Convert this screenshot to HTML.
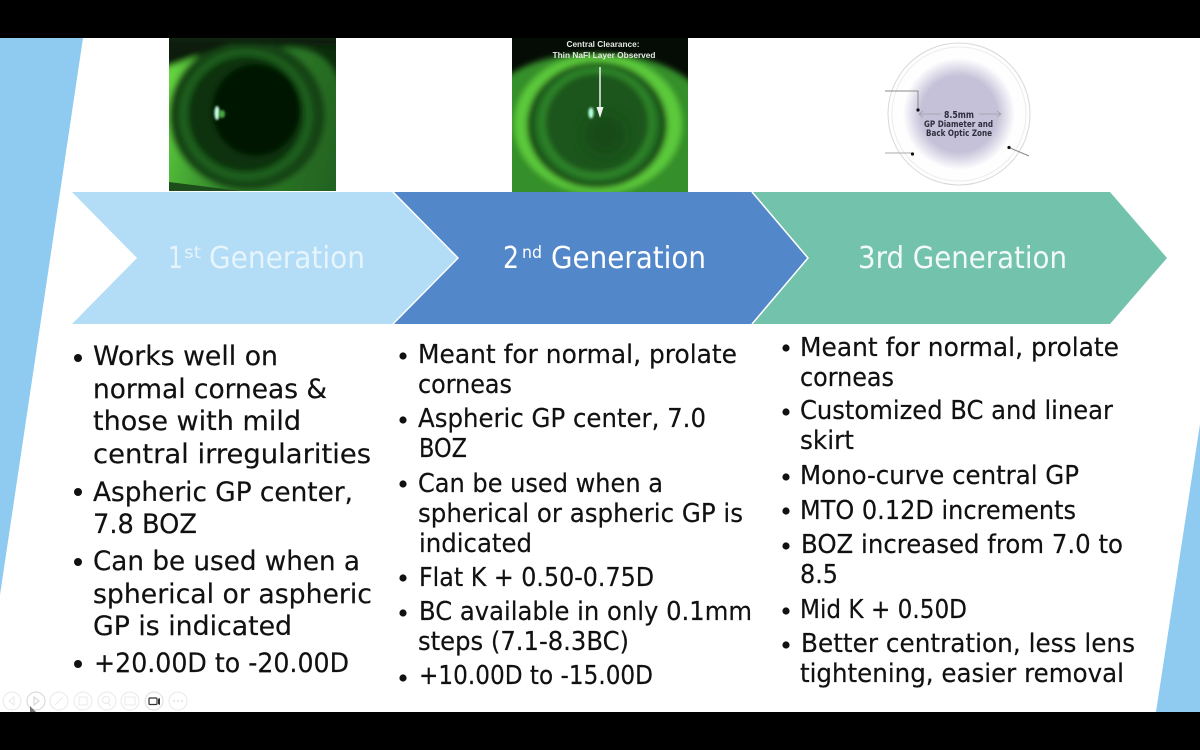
<!DOCTYPE html>
<html><head><meta charset="utf-8"><style>
html,body{margin:0;padding:0;background:#000;width:1200px;height:750px;overflow:hidden}
svg{display:block}
.b text{font-family:"DejaVu Sans",sans-serif;font-size:25.5px;fill:#111;stroke:#111;stroke-width:.2}
.c text{font-size:27px}
.h{font-family:"DejaVu Sans",sans-serif;font-size:30px}
</style></head><body>
<svg width="1200" height="750" viewBox="0 0 1200 750" xmlns="http://www.w3.org/2000/svg">
<defs>
<filter id="b3" x="-30%" y="-30%" width="160%" height="160%"><feGaussianBlur stdDeviation="3"/></filter>
<filter id="b1" x="-50%" y="-50%" width="200%" height="200%"><feGaussianBlur stdDeviation="1"/></filter>
<filter id="b05" x="-10%" y="-50%" width="120%" height="200%"><feGaussianBlur stdDeviation="0.35"/></filter>
<filter id="b6" x="-30%" y="-30%" width="160%" height="160%"><feGaussianBlur stdDeviation="7"/></filter>
<clipPath id="e1"><rect x="169" y="38" width="167" height="153"/></clipPath>
<clipPath id="e2"><rect x="512" y="38" width="176" height="154"/></clipPath>
<linearGradient id="s1" x1="0" y1="0.4" x2="1" y2="0.6"><stop offset="0" stop-color="#68d642"/><stop offset=".14" stop-color="#4fb637"/><stop offset=".45" stop-color="#2f8029"/><stop offset="1" stop-color="#236320"/></linearGradient>
<radialGradient id="lens"><stop offset="0" stop-color="#c5c1d9"/><stop offset=".68" stop-color="#c5c1d9"/><stop offset="1" stop-color="#c5c1d9" stop-opacity="0"/></radialGradient>
</defs>
<rect width="1200" height="750" fill="#000"/>
<rect x="0" y="38" width="1200" height="674" fill="#fff"/>
<polygon points="0,38 83,38 0,595" fill="#8fcbf0"/>
<polygon points="1200,424 1200,712 1156,712" fill="#8fcbf0"/>

<!-- eye 1 -->
<g clip-path="url(#e1)">
<rect x="169" y="38" width="167" height="153" fill="#0c2d0c"/>
<g filter="url(#b3)">
<path d="M160 200 L160 70 Q215 42 300 48 Q345 55 345 120 L345 200Z" fill="url(#s1)"/>
<ellipse cx="247" cy="115" rx="78" ry="75" fill="#134314"/>
<ellipse cx="246" cy="115" rx="67" ry="66" fill="#1f5e1d"/>
<ellipse cx="246" cy="114" rx="58" ry="58" fill="#0c330d"/>
<ellipse cx="256" cy="110" rx="44" ry="46" fill="#041504"/>
<path d="M160 38 L345 38 L345 46 L230 44 L160 70Z" fill="#081c08"/>
</g>
<path d="M169 182 L240 191 L169 191Z" fill="#1d4d1b"/>
<ellipse cx="217" cy="113" rx="2.6" ry="7" fill="#c8ffe6" filter="url(#b1)"/>
<ellipse cx="222" cy="114" rx="3" ry="4" fill="#4aa840" filter="url(#b1)"/>
</g>

<!-- eye 2 -->
<g clip-path="url(#e2)">
<rect x="512" y="38" width="176" height="154" fill="#050c05"/>
<g filter="url(#b3)">
<path d="M505 200 L505 78 Q540 52 600 54 Q660 54 695 85 L695 200Z" fill="#348f2c"/>
<ellipse cx="598" cy="124" rx="84" ry="70" fill="#5cc93b"/>
<ellipse cx="597" cy="125" rx="70" ry="63" fill="#123f16"/>
<ellipse cx="597" cy="124" rx="64" ry="59" fill="#246e22"/>
<ellipse cx="597" cy="123" rx="57" ry="55" fill="#338a2c"/>
<ellipse cx="597" cy="123" rx="52" ry="50" fill="#1b571b"/>
</g>
<circle cx="605" cy="135" r="20" fill="#164a18" filter="url(#b6)"/>
<ellipse cx="591" cy="113" rx="2.6" ry="5.5" fill="#b8ffe4" filter="url(#b1)"/>
<line x1="600" y1="67" x2="600" y2="110" stroke="#f2f2f2" stroke-width="1.5"/>
<polygon points="596.5,107 603.5,107 600,118" fill="#f2f2f2"/>
<g filter="url(#b05)">
<text x="603" y="47" text-anchor="middle" font-family="Liberation Sans,sans-serif" font-size="8" font-weight="bold" fill="#e6e6e6" textLength="73" lengthAdjust="spacingAndGlyphs">Central Clearance:</text>
<text x="604" y="58" text-anchor="middle" font-family="Liberation Sans,sans-serif" font-size="8" font-weight="bold" fill="#e6e6e6" textLength="103" lengthAdjust="spacingAndGlyphs">Thin NaFl Layer Observed</text>
</g>
</g>

<!-- lens -->
<circle cx="959" cy="114" r="71" fill="#fefefe" stroke="#d8d8dc" stroke-width="1"/>
<circle cx="959" cy="114" r="67" fill="none" stroke="#ececf0" stroke-width="1"/>
<circle cx="959" cy="114" r="56" fill="url(#lens)"/>
<polyline points="885,91 918,91 918,110" fill="none" stroke="#8b8b8b" stroke-width="1"/>
<circle cx="918" cy="110" r="1.6" fill="#111"/>
<line x1="885" y1="153" x2="912" y2="153" stroke="#aaa" stroke-width="1"/>
<circle cx="912.5" cy="154" r="1.6" fill="#111"/>
<line x1="1009" y1="147.5" x2="1029" y2="156" stroke="#888" stroke-width="1"/>
<circle cx="1009" cy="147.5" r="1.6" fill="#111"/>
<g fill="none" stroke="#a5a5b0" stroke-width="1">
<polyline points="941,114 920,114"/><polyline points="923,111 919,114 923,117"/>
<polyline points="979,114 1000,114"/><polyline points="997,111 1001,114 997,117"/>
</g>
<g font-family="DejaVu Sans,sans-serif" font-weight="bold" fill="#2e2e3e" text-anchor="middle" filter="url(#b05)">
<text x="959" y="118" font-size="9.5" textLength="30" lengthAdjust="spacingAndGlyphs">8.5mm</text>
<text x="958.5" y="127" font-size="9" textLength="69" lengthAdjust="spacingAndGlyphs">GP Diameter and</text>
<text x="959" y="136" font-size="9" textLength="66" lengthAdjust="spacingAndGlyphs">Back Optic Zone</text>
</g>

<!-- chevrons -->
<polygon points="72,192 393,192 458,258 393,324 72,324 137,258" fill="#b3dcf6"/>
<polygon points="393,192 752,192 808,258 752,324 393,324 458,258" fill="#5287ca"/>
<polygon points="752,192 1110,192 1167,258 1110,324 752,324 808,258" fill="#73c2ab"/>
<polyline points="393,192 458,258 393,324" fill="none" stroke="#fff" stroke-width="1.5"/>
<polyline points="752,192 808,258 752,324" fill="none" stroke="#fff" stroke-width="1.5"/>

<g class="h">
<text x="168" y="268" fill="#e6f4fc" textLength="15" lengthAdjust="spacingAndGlyphs">1</text>
<text x="184" y="258" font-size="17" fill="#e6f4fc" textLength="17" lengthAdjust="spacingAndGlyphs">st</text>
<text x="209" y="268" fill="#e6f4fc" textLength="156" lengthAdjust="spacingAndGlyphs">Generation</text>
<text x="503" y="268" fill="#fff" textLength="16" lengthAdjust="spacingAndGlyphs">2</text>
<text x="522" y="258" font-size="17" fill="#fff" textLength="20" lengthAdjust="spacingAndGlyphs">nd</text>
<text x="551" y="268" fill="#fff" textLength="155" lengthAdjust="spacingAndGlyphs">Generation</text>
<text x="858" y="268" fill="#f2faf7" textLength="209" lengthAdjust="spacingAndGlyphs">3rd Generation</text>
</g>

<!-- col 1 -->
<g class="b c">
<text x="93" y="365" textLength="185" lengthAdjust="spacingAndGlyphs">Works well on</text>
<text x="93" y="398" textLength="234" lengthAdjust="spacingAndGlyphs">normal corneas &amp;</text>
<text x="93" y="430" textLength="208" lengthAdjust="spacingAndGlyphs">those with mild</text>
<text x="93" y="463" textLength="278" lengthAdjust="spacingAndGlyphs">central irregularities</text>
<text x="93" y="501" textLength="260" lengthAdjust="spacingAndGlyphs">Aspheric GP center,</text>
<text x="93" y="533" textLength="104" lengthAdjust="spacingAndGlyphs">7.8 BOZ</text>
<text x="93" y="570" textLength="267" lengthAdjust="spacingAndGlyphs">Can be used when a</text>
<text x="93" y="603" textLength="279" lengthAdjust="spacingAndGlyphs">spherical or aspheric</text>
<text x="93" y="635" textLength="199" lengthAdjust="spacingAndGlyphs">GP is indicated</text>
<text x="94" y="672" textLength="255" lengthAdjust="spacingAndGlyphs">+20.00D to -20.00D</text>
</g>
<g fill="#111">
<circle cx="78" cy="358" r="4"/><circle cx="78" cy="492" r="4"/><circle cx="78" cy="562" r="4"/><circle cx="78" cy="664" r="4"/>
</g>

<!-- col 2 -->
<g class="b">
<text x="418" y="363" textLength="319" lengthAdjust="spacingAndGlyphs">Meant for normal, prolate</text>
<text x="418" y="393" textLength="94" lengthAdjust="spacingAndGlyphs">corneas</text>
<text x="418" y="427" textLength="288" lengthAdjust="spacingAndGlyphs">Aspheric GP center, 7.0</text>
<text x="419" y="457" textLength="48" lengthAdjust="spacingAndGlyphs">BOZ</text>
<text x="418" y="492" textLength="245" lengthAdjust="spacingAndGlyphs">Can be used when a</text>
<text x="418" y="522" textLength="325" lengthAdjust="spacingAndGlyphs">spherical or aspheric GP is</text>
<text x="419" y="552" textLength="113" lengthAdjust="spacingAndGlyphs">indicated</text>
<text x="419" y="586" textLength="235" lengthAdjust="spacingAndGlyphs">Flat K + 0.50-0.75D</text>
<text x="419" y="620" textLength="333" lengthAdjust="spacingAndGlyphs">BC available in only 0.1mm</text>
<text x="418" y="650" textLength="211" lengthAdjust="spacingAndGlyphs">steps (7.1-8.3BC)</text>
<text x="419" y="684" textLength="234" lengthAdjust="spacingAndGlyphs">+10.00D to -15.00D</text>
</g>
<g fill="#111">
<circle cx="403" cy="356" r="3.6"/><circle cx="403" cy="420" r="3.6"/><circle cx="403" cy="484" r="3.6"/><circle cx="403" cy="578" r="3.6"/><circle cx="403" cy="613" r="3.6"/><circle cx="403" cy="678" r="3.6"/>
</g>

<!-- col 3 -->
<g class="b">
<text x="800" y="356" textLength="319" lengthAdjust="spacingAndGlyphs">Meant for normal, prolate</text>
<text x="800" y="386" textLength="94" lengthAdjust="spacingAndGlyphs">corneas</text>
<text x="800" y="419" textLength="313" lengthAdjust="spacingAndGlyphs">Customized BC and linear</text>
<text x="800" y="449" textLength="54" lengthAdjust="spacingAndGlyphs">skirt</text>
<text x="800" y="484" textLength="279" lengthAdjust="spacingAndGlyphs">Mono-curve central GP</text>
<text x="800" y="519" textLength="276" lengthAdjust="spacingAndGlyphs">MTO 0.12D increments</text>
<text x="801" y="553" textLength="322" lengthAdjust="spacingAndGlyphs">BOZ increased from 7.0 to</text>
<text x="800" y="583" textLength="38" lengthAdjust="spacingAndGlyphs">8.5</text>
<text x="800" y="618" textLength="167" lengthAdjust="spacingAndGlyphs">Mid K + 0.50D</text>
<text x="801" y="652" textLength="334" lengthAdjust="spacingAndGlyphs">Better centration, less lens</text>
<text x="800" y="682" textLength="324" lengthAdjust="spacingAndGlyphs">tightening, easier removal</text>
</g>
<g fill="#111">
<circle cx="786" cy="348" r="3.6"/><circle cx="786" cy="412" r="3.6"/><circle cx="786" cy="477" r="3.6"/><circle cx="786" cy="511" r="3.6"/><circle cx="786" cy="546" r="3.6"/><circle cx="786" cy="611" r="3.6"/><circle cx="786" cy="645" r="3.6"/>
</g>

<!-- toolbar -->
<g fill="none" stroke="#ececec" stroke-width="1.2">
<circle cx="12" cy="701" r="9"/><circle cx="36" cy="701" r="9" stroke="#dcdcdc"/><circle cx="59" cy="701" r="9"/><circle cx="83" cy="701" r="9"/><circle cx="107" cy="701" r="9"/><circle cx="130" cy="701" r="9"/><circle cx="154" cy="701" r="9" stroke="#e2e2e2"/><circle cx="178" cy="701" r="9"/>
<polygon points="14,697 9,701 14,705"/><polygon points="34,697 39,701 34,705" stroke="#d8d8d8"/>
<line x1="55" y1="705" x2="63" y2="697"/><rect x="79" y="697" width="8" height="8"/><circle cx="106" cy="700" r="3.5"/><line x1="108" y1="703" x2="111" y2="706"/><rect x="125" y="697" width="10" height="8"/>
</g>
<rect x="149" y="698" width="8" height="6.5" rx="1" fill="none" stroke="#333" stroke-width="1.2"/>
<polygon points="158,699 160,698 160,705 158,704" fill="#333"/>
<g fill="#e8e8e8"><circle cx="174" cy="701" r="1.2"/><circle cx="178" cy="701" r="1.2"/><circle cx="182" cy="701" r="1.2"/></g>
<polygon points="30,706 30,712 33,712 36,712" fill="#777"/>
</svg>
</body></html>
